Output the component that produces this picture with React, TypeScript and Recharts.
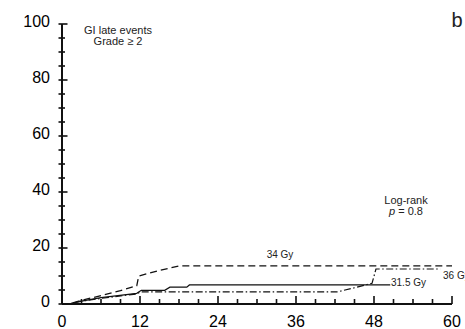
import { LineChart, Line, XAxis, YAxis } from "recharts";

// months since treatment vs cumulative incidence (%)
const months34 = [0, 1, 3, 6, 9, 11.5, 11.8, 15, 18, 60];
const pct34 = [0, 0, 1.3, 3, 4.8, 6.5, 10, 12, 13.6, 13.6];

const months315 = [0, 1, 3, 6, 11.5, 12.2, 15.8, 16.6, 19.2, 19.6, 50.5];
const pct315 = [0, 0, 1, 2.3, 3.8, 4.9, 4.9, 6, 6, 6.8, 6.8];

const months36 = [0, 1, 3, 6, 11.5, 12, 42.3, 45, 47.7, 48.3, 58.2];
const pct36 = [0, 0, 1, 2, 3.6, 4.3, 4.3, 5.8, 7.4, 12.5, 12.5];

const xTicks = [0, 3, 6, 9, 12, 15, 18, 21, 24, 27, 30, 33, 36, 39, 42, 45, 48, 51, 54, 57, 60];
const yTicks = [0, 5, 10, 15, 20, 25, 30, 35, 40, 45, 50, 55, 60, 65, 70, 75, 80, 85, 90, 95, 100];

// one table for the chart, gaps bridged with connectNulls
const allMonths = Array.from(new Set([...months34, ...months315, ...months36])).sort((a, b) => a - b);
const pick = (m: number[], p: number[], x: number) => {
  const i = m.indexOf(x);
  return i < 0 ? null : p[i];
};
const rows = allMonths.map((x) => ({
  m: x,
  g34: pick(months34, pct34, x),
  g315: pick(months315, pct315, x),
  g36: pick(months36, pct36, x),
}));

const ink = "#111";
const font = "'Liberation Sans', Arial, sans-serif";

const XTick = ({ x, y, payload }: any) => {
  const v = payload.value;
  const major = v % 12 === 0;
  const h = major ? 8 : 5;
  return (
    <g>
      <rect x={x - 0.8} y={y - h} width={1.6} height={h} fill={ink} />
      {major && (
        <text x={x} y={y + 23} textAnchor="middle" fontSize={16}>
          {v}
        </text>
      )}
    </g>
  );
};

const YTick = ({ x, y, payload }: any) => {
  const v = payload.value;
  const major = v % 20 === 0;
  return (
    <g>
      <rect x={x - 3.5} y={y - 0.8} width={major ? 9 : 6.5} height={1.6} fill={ink} />
      {major && (
        <text x={x - 12} y={y + 3} textAnchor="end" fontSize={16}>
          {v}
        </text>
      )}
    </g>
  );
};

const Note = ({ left, top, size, align = "left", children }: any) => (
  <div
    style={{
      position: "absolute",
      left,
      top,
      fontSize: size,
      lineHeight: 1,
      whiteSpace: "nowrap",
      textAlign: align,
      transform: align === "center" ? "translateX(-50%)" : undefined,
    }}
  >
    {children}
  </div>
);

export default function App() {
  return (
    <div
      style={{
        position: "absolute",
        left: 0,
        top: 0,
        width: 465,
        height: 329,
        background: "#fff",
        overflow: "hidden",
        fontFamily: font,
        color: "#222",
      }}
    >
      <LineChart width={465} height={329} data={rows} margin={{ top: 24, right: 13, bottom: 0, left: 0 }}>
        <XAxis dataKey="m" type="number" domain={[0, 60]} ticks={xTicks} interval={0} height={25}
          tickSize={0} tickMargin={0} tickLine={false} tick={<XTick />} axisLine={{ stroke: ink, strokeWidth: 2 }} />
        <YAxis type="number" domain={[0, 100]} ticks={yTicks} interval={0} width={62}
          tickSize={0} tickMargin={0} tickLine={false} tick={<YTick />} axisLine={{ stroke: ink, strokeWidth: 2 }} />
        <Line dataKey="g34" type="linear" stroke={ink} strokeWidth={1.3} strokeDasharray="7 4"
          connectNulls dot={false} isAnimationActive={false} />
        <Line dataKey="g315" type="linear" stroke={ink} strokeWidth={1.2}
          connectNulls dot={false} isAnimationActive={false} />
        <Line dataKey="g36" type="linear" stroke={ink} strokeWidth={1.2} strokeDasharray="7 2.5 1.5 2.5"
          connectNulls dot={false} isAnimationActive={false} />
      </LineChart>
      <Note left={118} top={25} size={11} align="center">
        GI late events
        <br />
        Grade ≥ 2
      </Note>
      <Note left={457} top={10} size={20} align="center">b</Note>
      <Note left={406} top={195} size={11} align="center">
        Log-rank
        <br />
        <i>p</i> = 0.8
      </Note>
      <Note left={280} top={250} size={10} align="center">34 Gy</Note>
      <Note left={391} top={278} size={10}>31.5 Gy</Note>
      <Note left={443} top={271} size={10}>36 Gy</Note>
    </div>
  );
}
